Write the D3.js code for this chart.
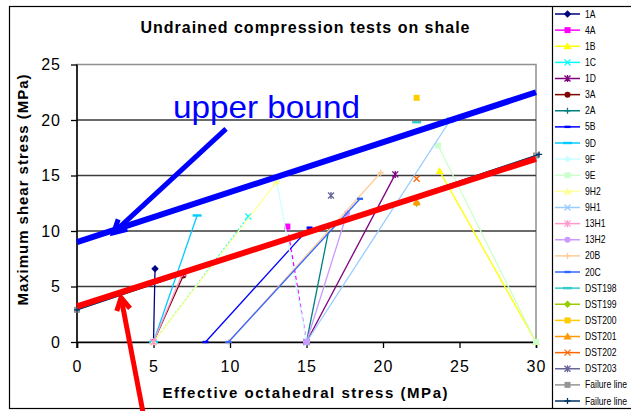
<!DOCTYPE html>
<html><head><meta charset="utf-8">
<script src="https://cdn.jsdelivr.net/npm/d3@7"></script>
<style>
html,body{margin:0;padding:0;background:#fff;}
svg{display:block;font-family:"Liberation Sans",Arial,sans-serif;}
</style></head>
<body><svg id="c" width="631" height="411"></svg>
<script>
// ---- data ----
const xTicks = [0, 5, 10, 15, 20, 25, 30];
const yTicks = [0, 5, 10, 15, 20, 25];
const seriesNames = ["1A","4A","1B","1C","1D","3A","2A","5B","9D","9F","9E","9H2","9H1","13H1","13H2","20B","20C","DST198","DST199","DST200","DST201","DST202","DST203","Failure line","Failure line"];
// stress paths [effective octahedral stress, max shear stress]
const s1A = [[5,0],[5.1,6.6]];
const s4A = [[15,0],[13.75,10.4]];
const s1B = [[30,0],[23.7,15.4]];
const s1C = [[5,0],[11.2,11.3]];
const s1D = [[15,0],[20.8,15.1]];
const s3A = [[5,0],[6.95,6.0]];
const s2A = [[15,0],[16.5,10.4]];
const s5B = [[8.4,0],[15.2,10.3]];
const s9D = [[5,0],[7.85,11.4]];
const s9F = [[15,0],[13.05,14.45]];
const s9E = [[30,0],[23.6,17.7]];
const s9H2 = [[5,0],[13.05,14.45]];
const s9H1 = [[15,0],[24.4,20.0]];
const s13H1 = [[5,0],[6.9,6.2]];
const s13H2 = [[15,0],[17.65,11.6]];
const s20B = [[9.9,0],[19.85,15.25]];
const s20C = [[9.9,0],[18.5,12.9]];
const sDST198 = [[22.2,19.8]];
const sDST199 = [[22.2,12.5]];
const sDST200 = [[22.2,22.0]];
const sDST201 = [[22.2,12.6]];
const sDST202 = [[22.2,14.7]];
const sDST203 = [[16.6,13.2]];
const sFail1 = [[0,2.9],[30,16.8]];
const sFail2 = [[0,2.9],[30.2,16.9]];
const seriesValues = [s1A,s4A,s1B,s1C,s1D,s3A,s2A,s5B,s9D,s9F,s9E,s9H2,s9H1,s13H1,s13H2,s20B,s20C,sDST198,sDST199,sDST200,sDST201,sDST202,sDST203,sFail1,sFail2];
// annotations (data units)
const upperBound = [[0,9],[30,22.5]];
const lowerBound = [[0,3.2],[30,16.5]];
const blueArrow = [[9.74,19.2],[2.4,9.85]];
const redArrow = [[4.31,-6.3],[2.88,4.0]];
const upperLabelPos = [6.27,20.2];
const upperLabel = "upper bound";
const titleText = "Undrained compression tests on shale";
const xTitle = "Effective octahedral stress (MPa)";
const yTitle = "Maximum shear stress (MPa)";

// ---- styles ----
const seriesColors = ["#000080","#FF00FF","#FFFF00","#00FFFF","#800080","#800000","#008080","#0000FF","#00CCFF","#CCFFFF","#CCFFCC","#FFFF99","#99CCFF","#FF99CC","#CC99FF","#FFCC99","#3366FF","#33CCCC","#99CC00","#FFCC00","#FF9900","#FF6600","#666699","#969696","#003366"];
const seriesMarkers = ["diamond","square","triangle","x","star","circle","plus","dash","longdash","diamond","square","triangle","x","star","circle","plus","dash","longdash","diamond","square","triangle","x","star","square","plus"];
const seriesDash = {1:"4,3",3:"2,2"};

const svg = d3.select("#c");
const x = d3.scaleLinear().domain([0,30]).range([77,536]);
const y = d3.scaleLinear().domain([0,25]).range([342,64.5]);

// outer frame
svg.append("rect").attr("x",9.5).attr("y",6.5).attr("width",640).attr("height",402)
  .attr("fill","#fff").attr("stroke","#000").attr("stroke-width",1.2);
svg.append("line").attr("x1",552.5).attr("x2",552.5).attr("y1",6.5).attr("y2",408.5)
  .attr("stroke","#000").attr("stroke-width",1.2);

// plot border (gray)
svg.append("rect").attr("x",x(0)).attr("y",y(25)).attr("width",x(30)-x(0)).attr("height",y(0)-y(25))
  .attr("fill","none").attr("stroke","#909090").attr("stroke-width",1.5);

// gridlines
svg.append("g").selectAll("line").data(yTicks.filter(d=>d>0 && d<25)).join("line")
  .attr("x1",x(0)).attr("x2",x(30)).attr("y1",d=>y(d)).attr("y2",d=>y(d))
  .attr("stroke","#3a3a3a").attr("stroke-width",1.6);

// axes
const gx = svg.append("g").attr("transform",`translate(0,${y(0)})`)
  .call(d3.axisBottom(x).tickValues(xTicks).tickSize(6).tickPadding(13).tickFormat(d3.format("d")));
const gy = svg.append("g").attr("transform",`translate(${x(0)},0)`)
  .call(d3.axisLeft(y).tickValues(yTicks).tickSize(6).tickPadding(10).tickFormat(d3.format("d")));
[gx,gy].forEach(g=>{
  g.select(".domain").attr("stroke","#000").attr("stroke-width",1.5);
  g.selectAll(".tick line").attr("stroke","#000").attr("stroke-width",1.3);
  g.selectAll("text").attr("font-size",16).attr("fill","#000")
    .attr("font-family","'Liberation Sans',Arial,sans-serif").attr("letter-spacing",1);
});
gy.select(".domain").attr("d",`M0,${y(0)+6}V${y(25)}`);

// marker drawer
function marker(g, type, cx, cy, color){
  const s = 3;
  if(type==="diamond") g.append("path").attr("d",`M${cx},${cy-s-0.7}L${cx+s+0.7},${cy}L${cx},${cy+s+0.7}L${cx-s-0.7},${cy}Z`).attr("fill",color);
  else if(type==="square") g.append("rect").attr("x",cx-s).attr("y",cy-s).attr("width",2*s).attr("height",2*s).attr("fill",color);
  else if(type==="triangle") g.append("path").attr("d",`M${cx},${cy-s-1}L${cx+s+1},${cy+s}L${cx-s-1},${cy+s}Z`).attr("fill",color);
  else if(type==="circle") g.append("circle").attr("cx",cx).attr("cy",cy).attr("r",s).attr("fill",color);
  else if(type==="x") g.append("path").attr("d",`M${cx-s},${cy-s}L${cx+s},${cy+s}M${cx-s},${cy+s}L${cx+s},${cy-s}`).attr("stroke",color).attr("stroke-width",1.3).attr("fill","none");
  else if(type==="star") g.append("path").attr("d",`M${cx-s},${cy-s}L${cx+s},${cy+s}M${cx-s},${cy+s}L${cx+s},${cy-s}M${cx},${cy-s-0.5}L${cx},${cy+s+0.5}`).attr("stroke",color).attr("stroke-width",1.3).attr("fill","none");
  else if(type==="plus") g.append("path").attr("d",`M${cx-s},${cy}L${cx+s},${cy}M${cx},${cy-s}L${cx},${cy+s}`).attr("stroke",color).attr("stroke-width",1.3).attr("fill","none");
  else if(type==="dash") g.append("rect").attr("x",cx-3).attr("y",cy-1.2).attr("width",6).attr("height",2.4).attr("fill",color);
  else if(type==="longdash") g.append("rect").attr("x",cx-4.5).attr("y",cy-1.2).attr("width",9).attr("height",2.4).attr("fill",color);
}

// series
const line = d3.line().x(d=>x(d[0])).y(d=>y(d[1]));
const gs = svg.append("g");
seriesValues.forEach((vals,i)=>{
  const g = gs.append("g");
  if(vals.length>1){
    g.append("path").attr("d",line(vals)).attr("fill","none").attr("stroke",seriesColors[i])
      .attr("stroke-width",1.3).attr("stroke-dasharray",seriesDash[i]||null);
  }
  vals.forEach(v=>marker(g, seriesMarkers[i], x(v[0]), y(v[1]), seriesColors[i]));
});

// annotations
svg.append("path").attr("d",line(lowerBound)).attr("stroke","#FF0000").attr("stroke-width",6).attr("fill","none");
svg.append("path").attr("d",line(upperBound)).attr("stroke","#0000FF").attr("stroke-width",6).attr("fill","none");
function arrow(pts, color){
  const [a,b] = pts;
  const x1=x(a[0]), y1=y(a[1]), x2=x(b[0]), y2=y(b[1]);
  svg.append("line").attr("x1",x1).attr("y1",y1).attr("x2",x2).attr("y2",y2)
    .attr("stroke",color).attr("stroke-width",5);
  const ang = Math.atan2(y1-y2, x1-x2), L=14, sp=0.5;
  svg.append("path").attr("d",`M${x2+L*Math.cos(ang+sp)},${y2+L*Math.sin(ang+sp)}L${x2},${y2}L${x2+L*Math.cos(ang-sp)},${y2+L*Math.sin(ang-sp)}`)
    .attr("stroke",color).attr("stroke-width",5).attr("fill","none").attr("stroke-linejoin","miter");
}
arrow(blueArrow,"#0000FF");
arrow(redArrow,"#FF0000");
svg.append("text").attr("x",x(upperLabelPos[0])).attr("y",y(upperLabelPos[1]))
  .attr("font-size",32).attr("fill","#0000FF").attr("textLength",187).attr("lengthAdjust","spacingAndGlyphs")
  .text(upperLabel);

// titles
svg.append("text").attr("x",305).attr("y",33).attr("text-anchor","middle").attr("font-weight","bold")
  .attr("font-size",16).attr("textLength",329).attr("lengthAdjust","spacing").text(titleText);
svg.append("text").attr("x",305).attr("y",398).attr("text-anchor","middle").attr("font-weight","bold")
  .attr("font-size",15).attr("textLength",285).attr("lengthAdjust","spacing").text(xTitle);
svg.append("text").attr("transform","translate(28,190) rotate(-90)").attr("text-anchor","middle").attr("font-weight","bold")
  .attr("font-size",15).attr("textLength",231).attr("lengthAdjust","spacing").text(yTitle);

// legend
const lg = svg.append("g");
seriesNames.forEach((n,i)=>{
  const cy = 14 + i*16.125;
  const g = lg.append("g");
  g.append("line").attr("x1",555).attr("x2",580).attr("y1",cy).attr("y2",cy).attr("stroke",seriesColors[i]).attr("stroke-width",1.5);
  marker(g, seriesMarkers[i], 567.5, cy, seriesColors[i]);
  g.append("text").attr("transform",`translate(585,${cy+3.5}) scale(0.86,1)`).attr("font-size",10).attr("fill","#000").text(n);
});
</script></body></html>
